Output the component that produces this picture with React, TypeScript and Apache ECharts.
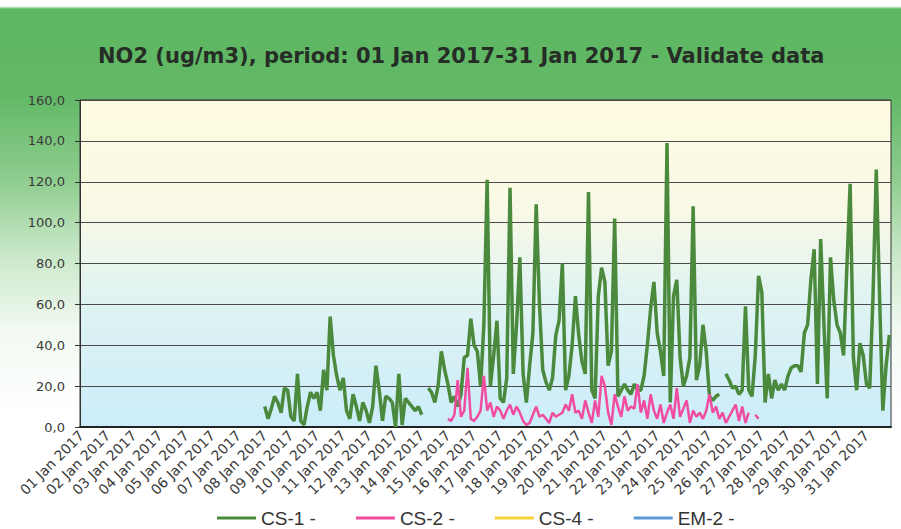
import React, { useEffect, useRef } from "react";
import * as echarts from "echarts";

const dayLabels = [
  "01 Jan 2017", "02 Jan 2017", "03 Jan 2017", "04 Jan 2017", "05 Jan 2017", "06 Jan 2017",
  "07 Jan 2017", "08 Jan 2017", "09 Jan 2017", "10 Jan 2017", "11 Jan 2017", "12 Jan 2017",
  "13 Jan 2017", "14 Jan 2017", "15 Jan 2017", "16 Jan 2017", "17 Jan 2017", "18 Jan 2017",
  "19 Jan 2017", "20 Jan 2017", "21 Jan 2017", "22 Jan 2017", "23 Jan 2017", "24 Jan 2017",
  "25 Jan 2017", "26 Jan 2017", "27 Jan 2017", "28 Jan 2017", "29 Jan 2017", "30 Jan 2017",
  "31 Jan 2017",
];
// three-hourly readings within each day
const hours = ["00:00", "03:00", "06:00", "09:00", "12:00", "15:00", "18:00", "21:00"];

const yTicks = { min: 0, max: 160, interval: 20 };

const n = null;
// CS-1 (01 Jan – 07 Jan: no data)
const cs1Lead = [n, n, n, n, n, n, n, n, n, n, n, n, n, n, n, n, n, n, n, n, n, n, n, n, n, n, n, n,
  n, n, n, n, n, n, n, n, n, n, n, n, n, n, n, n, n, n, n, n, n, n, n, n, n, n, n, n];
const cs1Values = [
  10, 4, 9, 15, 12, 7, 19, 18, 5, 3, 26, 3, 1, 10, 17, 14, 17, 8, 28, 18,
  54, 35, 25, 18, 24, 8, 4, 16, 10, 3, 12, 8, 2, 10, 30, 18, 3, 15, 14, 12,
  0, 26, 1, 14, 12, 10, 8, 10, 6, null, 19, 17, 12, 20, 37, 28, 21, 12, 15, 10,
  16, 34, 35, 53, 40, 37, 20, 50, 121, 20, 35, 52, 14, 12, 24, 117, 26, 50, 83, 26,
  12, 30, 46, 109, 60, 28, 22, 18, 24, 45, 52, 80, 18, 25, 40, 64, 45, 32, 26, 115,
  18, 14, 64, 78, 71, 30, 37, 102, 15, 18, 21, 18, 16, 21, 18, 18, 25, 40, 58, 71,
  46, 37, 25, 139, 12, 64, 72, 34, 20, 25, 34, 108, 23, 30, 50, 37, 15, 13, 15, 16,
  null, 26, 23, 19, 20, 16, 18, 59, 18, 15, 35, 74, 66, 12, 26, 14, 23, 18, 21, 18,
  25, 29, 30, 30, 27, 46, 50, 72, 87, 21, 92, 50, 14, 83, 62, 50, 46, 35, 78, 119,
  34, 18, 41, 35, 21, 19, 64, 126, 64, 8, 30, 45,
];
// CS-2 (from 15 Jan 00:00)
const cs2Lead = [...cs1Lead, ...[n, n, n, n, n, n, n, n, n, n, n, n, n, n, n, n, n, n, n, n, n, n, n, n, n, n, n, n,
  n, n, n, n, n, n, n, n, n, n, n, n, n, n, n, n, n, n, n, n, n, n, n, n, n, n, n, n]];
const cs2Values = [
  4, 3, 6, 23, 5, 8, 29, 4, 3, 5, 8, 25, 8, 12, 5, 10, 8, 4, 8, 11,
  6, 10, 7, 3, 1, 2, 6, 10, 5, 6, 4, 2, 7, 5, 6, 7, 11, 8, 16, 7,
  8, 4, 13, 7, 2, 13, 5, 25, 20, 7, 1, 16, 10, 5, 15, 8, 10, 9, 21, 7,
  13, 4, 16, 8, 4, 11, 2, 7, 11, 4, 19, 5, 9, 13, 2, 8, 5, 7, 4, 8,
  16, 7, 10, 4, 7, 2, 5, 8, 11, 3, 10, 2, 7, null, 6, 4,
];
const cs4Values: (number | null)[] = [];
const em2Values: (number | null)[] = [];

const seriesNames = ["CS-1 -", "CS-2 -", "CS-4 -", "EM-2 -"];
const seriesColors = ["#4b8a3d", "#f04da0", "#f5d33b", "#5b9bd5"];

export default function App() {
  const ref = useRef<HTMLDivElement>(null);
  useEffect(() => {
    if (!ref.current) return;
    const chart = echarts.init(ref.current, undefined, { renderer: "svg" });
    const categories: string[] = [];
    dayLabels.forEach((d) => hours.forEach((h) => categories.push(d + " " + h)));
    const total = categories.length;
    const pad = (arr: (number | null)[]) => {
      const out = arr.slice(0, total);
      while (out.length < total) out.push(null);
      return out;
    };
    const data = [
      pad([...cs1Lead, ...cs1Values]),
      pad([...cs2Lead, ...cs2Values]),
      pad(cs4Values),
      pad(em2Values),
    ];
    chart.setOption({
      animation: false,
      backgroundColor: "transparent",
      title: {
        text: "NO2 (ug/m3), period: 01 Jan 2017-31 Jan 2017 - Validate data",
        left: 93,
        top: 40,
        textStyle: { fontFamily: "DejaVu Sans", fontSize: 21, fontWeight: "bold", color: "#262d26" },
      },
      legend: {
        top: 502,
        left: 212,
        icon: "rect",
        itemWidth: 39,
        itemHeight: 3,
        itemGap: 40,
        textStyle: { fontFamily: "Liberation Sans", fontSize: 19, color: "#333", lineHeight: 22 },
        data: seriesNames,
      },
      grid: {
        left: 80,
        right: 10,
        top: 100,
        bottom: 102,
        show: true,
        borderColor: "#333",
        borderWidth: 1,
        backgroundColor: new echarts.graphic.LinearGradient(0, 0, 0, 1, [
          { offset: 0, color: "#fefbe0" },
          { offset: 0.35, color: "#f8f9e6" },
          { offset: 0.6, color: "#e0f3f2" },
          { offset: 1, color: "#cbedfa" },
        ]),
      },
      xAxis: {
        type: "category",
        data: categories,
        boundaryGap: true,
        axisLine: { lineStyle: { color: "#222", width: 2 } },
        axisTick: { interval: 0, length: 4, lineStyle: { color: "#222", width: 2 } },
        axisLabel: {
          interval: (index: number) => index % hours.length === 0,
          formatter: (v: string) => v.slice(0, 11),
          rotate: 45,
          margin: 6,
          fontFamily: "DejaVu Sans",
          fontSize: 14,
          color: "#3a3a3a",
        },
        splitLine: { show: false },
      },
      yAxis: {
        type: "value",
        min: yTicks.min,
        max: yTicks.max,
        interval: yTicks.interval,
        axisLine: { show: true, lineStyle: { color: "#333" } },
        axisTick: { show: true, length: 5, lineStyle: { color: "#333" } },
        axisLabel: {
          formatter: (v: number) => v.toFixed(1).replace(".", ","),
          fontFamily: "DejaVu Sans",
          fontSize: 13,
          color: "#3a3a3a",
          margin: 15,
        },
        splitLine: { lineStyle: { color: "#4a4a4a", width: 1 } },
      },
      series: seriesNames.map((name, k) => ({
        name,
        type: "line",
        data: data[k],
        showSymbol: false,
        symbol: "none",
        connectNulls: false,
        color: seriesColors[k],
        lineStyle: { color: seriesColors[k], width: k === 0 ? 3.5 : 2.5 },
        z: k === 0 ? 2 : 3,
      })),
    });
    return () => chart.dispose();
  }, []);
  return (
    <div
      style={{
        position: "absolute",
        left: 0,
        top: 0,
        width: 901,
        height: 529,
        background:
          "linear-gradient(to bottom, #ffffff 0px, #ffffff 6px, #5db762 9px, #62b866 18%, #8fcd8f 34%, #c9e8c8 48%, #f1f9f1 62%, #ffffff 78%)",
      }}
    >
      <div ref={ref} style={{ width: 901, height: 529 }} />
    </div>
  );
}
